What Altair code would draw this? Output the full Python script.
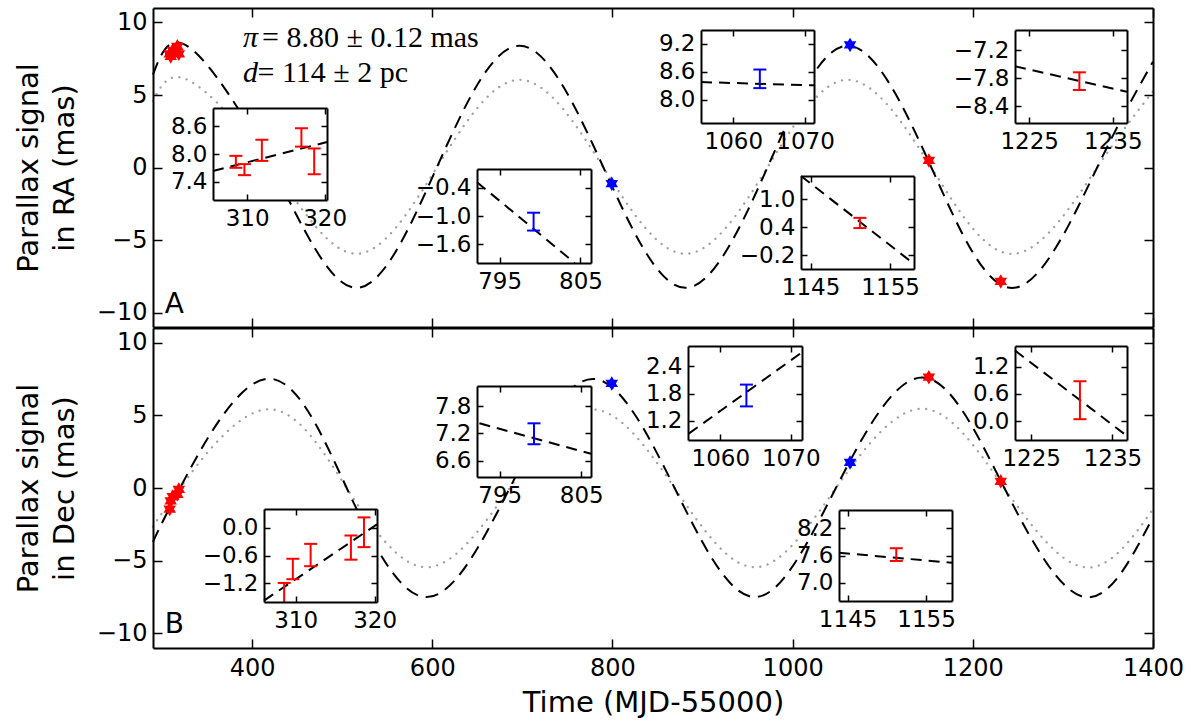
import altair as alt
import pandas as pd

# ---------------- layout (pixels inside the plot frame) ----------------
W, H = 1000, 640
PANEL_A = [319, 0]      # y range of the RA panel
PANEL_B = [640, 320]    # y range of the Dec panel

# ---------------- data ----------------
X_DOMAIN = [290, 1400]
Y_DOMAIN = [-11, 11]
X_TICKS = [400, 600, 800, 1000, 1200, 1400]
Y_TICKS = [-10, -5, 0, 5, 10]

obs_mjd = [308.55, 309.65, 311.9, 317.0, 318.65, 799.2, 1063.7, 1151.2, 1231.0]
obs_colour = ["red", "red", "red", "red", "red", "blue", "blue", "red", "red"]
ra_val = [7.83, 7.66, 8.08, 8.36, 7.84, -1.12, 8.45, 0.49, -7.86]
ra_err = [0.13, 0.12, 0.23, 0.20, 0.28, 0.19, 0.20, 0.11, 0.19]
dec_val = [-1.45, -0.89, -0.59, -0.43, -0.10, 7.19, 1.76, 7.62, 0.46]
dec_err = [0.26, 0.22, 0.24, 0.26, 0.32, 0.23, 0.24, 0.14, 0.42]

model_ra_t = [290, 330, 422, 515, 605, 697, 790, 881, 972, 1061, 1154, 1246, 1338, 1400]
model_ra = [6.4, 8.3, 0.0, -8.3, 0.0, 8.4, 0.0, -8.3, 0.0, 8.4, 0.0, -8.3, 0.0, 7.3]
model_ra_dot = [4.6, 6.0, 0.0, -5.95, 0.0, 6.05, 0.0, -5.95, 0.0, 6.05, 0.0, -5.95, 0.0, 5.25]
model_dec_t = [290, 320, 415, 505, 594, 686, 778, 869, 958, 1048, 1144, 1235, 1324, 1400]
model_dec = [-3.7, 0.0, 7.5, 0.0, -7.5, 0.0, 7.5, 0.0, -7.5, 0.0, 7.6, 0.0, -7.5, -2.0]
model_dec_dot = [-2.65, 0.0, 5.4, 0.0, -5.45, 0.0, 5.4, 0.0, -5.45, 0.0, 5.45, 0.0, -5.45, -1.45]

# insets: limits, ticks and the model segment drawn inside
ra_xlim = [[305.6, 320.3], [792.2, 806.3], [1055.5, 1071.25], [1143.8, 1158.0], [1223.3, 1236.7]]
ra_ylim = [[7.0, 9.0], [-2.0, 0.0], [7.5, 9.5], [-0.5, 1.5], [-8.76, -6.76]]
ra_xticks = [[310, 320], [795, 805], [1060, 1070], [1145, 1155], [1225, 1235]]
ra_yticks = [[7.4, 8.0, 8.6], [-1.6, -1.0, -0.4], [8.0, 8.6, 9.2], [-0.2, 0.4, 1.0], [-8.4, -7.8, -7.2]]
ra_seg_t = [[305.6, 320.3], [792.2, 804.3], [1055.5, 1071.25], [1143.8, 1158.0], [1223.3, 1236.7]]
ra_seg_v = [[7.63, 8.26], [-0.28, -2.0], [8.38, 8.31], [1.5, -0.39], [-7.54, -8.09]]

dec_xlim = [[306.0, 320.3], [792.2, 806.2], [1055.4, 1071.6], [1143.9, 1158.3], [1223.0, 1236.8]]
dec_ylim = [[-1.6, 0.4], [6.24, 8.24], [0.78, 2.85], [6.6, 8.6], [-0.42, 1.66]]
dec_xticks = [[310, 320], [795, 805], [1060, 1070], [1145, 1155], [1225, 1235]]
dec_yticks = [[-1.2, -0.6, 0.0], [6.6, 7.2, 7.8], [1.2, 1.8, 2.4], [7.0, 7.6, 8.2], [0.0, 0.6, 1.2]]
dec_seg_t = [[306.0, 320.3], [792.5, 806.2], [1055.5, 1071.5], [1143.9, 1158.3], [1223.0, 1236.8]]
dec_seg_v = [[-1.57, 0.07], [7.42, 6.75], [0.92, 2.7], [7.66, 7.44], [1.56, -0.33]]

# inset boxes: left, top, right, bottom (pixels in the plot frame)
ra_box = [(60, 100, 174, 192), (324, 161, 438, 255), (548, 22, 661, 115),
          (648, 168, 761, 261), (862, 22, 974, 115)]
dec_box = [(111, 501, 224, 594), (324, 378, 438, 469), (535, 338, 649, 432),
           (686, 502, 799, 593), (862, 338, 974, 432)]

annot_sym_t = [390, 390]
annot_sym_v = [8.93, 6.55]
annot_sym = ["π", "d"]
annot_rest_t = [411, 406]
annot_rest = ["= 8.80 ± 0.12 mas", "= 114 ± 2 pc"]
panel_label_t = [303]
panel_label_v = [-9.45]

SANS = "DejaVu Sans"
HEX = ("M0,-1L0.289,-0.5L0.866,-0.5L0.577,0L0.866,0.5L0.289,0.5L0,1L-0.289,0.5"
       "L-0.866,0.5L-0.577,0L-0.866,-0.5L-0.289,-0.5Z")


def sc(domain, rng, clamp=False):
    return alt.Scale(domain=domain, range=rng, nice=False, zero=False, clamp=clamp)


def tick_axis(orient, offset, values, size):
    return alt.Axis(orient=orient, offset=offset, values=values, labels=False,
                    ticks=True, tickSize=size, tickWidth=1.5, tickColor="black",
                    domain=True, domainColor="black", domainWidth=2,
                    grid=False, zindex=1, title=None)


def label_axis(orient, offset, values, fmt, size, pad, title=None, tsize=29, tpad=10):
    kw = dict(orient=orient, offset=offset, values=values, format=fmt, labels=True,
              ticks=False, tickSize=0, domain=False, labelFontSize=size,
              labelFont=SANS, labelColor="black", labelPadding=pad,
              labelFlush=False, labelOverlap=False, grid=False, zindex=1)
    if title is None:
        kw["title"] = None
    else:
        kw.update(title=title, titleFont=SANS, titleFontSize=tsize,
                  titleFontWeight="normal", titleColor="black", titlePadding=tpad,
                  titleLineHeight=36)
    return alt.Axis(**kw)


obs = pd.DataFrame({"t": obs_mjd, "c": obs_colour, "ra": ra_val, "ra_e": ra_err,
                    "dec": dec_val, "dec_e": dec_err})

layers = []


def main_panel(prange, t, dash_v, dot_v, col, ytitle, bottom):
    top_px, bot_px = prange[1], prange[0]
    ddf = pd.DataFrame({"t": t, "v": dash_v})
    odf = pd.DataFrame({"t": t, "v": dot_v})
    pdf = obs[["t", "c", col]].rename(columns={col: "v"})
    xs = lambda: sc(X_DOMAIN, [0, W])
    ys = lambda: sc(Y_DOMAIN, prange)
    layers.append(alt.Chart(odf).mark_line(
        interpolate="natural", color="#a0a0a0", strokeWidth=2.3, strokeDash=[0.1, 7.5],
        strokeCap="round").encode(
        x=alt.X("t:Q", scale=xs(), axis=tick_axis("top", -bot_px, X_TICKS, 9)),
        y=alt.Y("v:Q", scale=ys(), axis=tick_axis("right", -W, Y_TICKS, 9))))
    layers.append(alt.Chart(ddf).mark_line(
        interpolate="natural", color="black", strokeWidth=2, strokeDash=[13, 8]).encode(
        x=alt.X("t:Q", scale=xs(), axis=tick_axis("bottom", top_px - H, X_TICKS, 9)),
        y=alt.Y("v:Q", scale=ys(), axis=label_axis("left", 0, Y_TICKS, "d", 24, 6,
                                                   title=ytitle, tpad=17))))
    xax = label_axis("bottom", 0, X_TICKS, "d", 24, 8, title="Time (MJD-55000)", tpad=8) if bottom else None
    layers.append(alt.Chart(pdf).mark_point(
        shape=HEX, filled=True, size=210, opacity=1).encode(
        x=alt.X("t:Q", scale=xs(), axis=xax),
        y=alt.Y("v:Q", scale=ys(), axis=tick_axis("left", -W, Y_TICKS, 9)),
        color=alt.Color("c:N", scale=None)))


def text_layer(df, prange, font, size, style="normal"):
    layers.append(alt.Chart(df).mark_text(
        align="left", baseline="middle", font=font, fontSize=size, fontStyle=style,
        color="black").encode(
        x=alt.X("t:Q", scale=sc(X_DOMAIN, [0, W]), axis=None),
        y=alt.Y("v:Q", scale=sc(Y_DOMAIN, prange), axis=None),
        text="s:N"))


def inset(box, xlim, ylim, xt, yt, seg_t, seg_v, col, ecol):
    l, t, r, b = box
    xs = lambda clamp=False: sc(xlim, [l, r], clamp)
    ys = lambda clamp=False: sc(ylim, [b, t], clamp)
    bg = pd.DataFrame({"x0": [xlim[0]], "x1": [xlim[1]], "y0": [ylim[0]], "y1": [ylim[1]]})
    layers.append(alt.Chart(bg).mark_rect(fill="white").encode(
        x=alt.X("x0:Q", scale=xs(), axis=label_axis("bottom", b - H, xt, "d", 23, 7)),
        x2="x1:Q",
        y=alt.Y("y0:Q", scale=ys(), axis=label_axis("left", -l, yt, ".1f", 23, 6)),
        y2="y1:Q"))
    sdf = pd.DataFrame({"t": seg_t, "v": seg_v})
    layers.append(alt.Chart(sdf).mark_line(color="black", strokeWidth=2, strokeDash=[11, 7]).encode(
        x=alt.X("t:Q", scale=xs(), axis=tick_axis("bottom", t - H, xt, 6)),
        y=alt.Y("v:Q", scale=ys(), axis=tick_axis("right", l - W, yt, 6))))
    sel = obs[(obs["t"] >= xlim[0]) & (obs["t"] <= xlim[1])].copy()
    sel["lo"] = sel[col] - sel[ecol]
    sel["hi"] = sel[col] + sel[ecol]
    layers.append(alt.Chart(sel[["t", "c", "lo", "hi"]]).mark_rule(strokeWidth=2).encode(
        x=alt.X("t:Q", scale=xs(), axis=tick_axis("top", -b, xt, 6)),
        y=alt.Y("lo:Q", scale=ys(True), axis=tick_axis("left", -r, yt, 6)),
        y2="hi:Q",
        color=alt.Color("c:N", scale=None)))
    caps = sel.melt(id_vars=["t", "c"], value_vars=["lo", "hi"], value_name="v")
    caps = caps[(caps["v"] >= ylim[0]) & (caps["v"] <= ylim[1])][["t", "c", "v"]]
    layers.append(alt.Chart(caps).mark_rule(strokeWidth=2, xOffset=-6.5, x2Offset=6.5).encode(
        x=alt.X("t:Q", scale=xs(), axis=None),
        x2="t:Q",
        y=alt.Y("v:Q", scale=ys(), axis=None),
        color=alt.Color("c:N", scale=None)))


main_panel(PANEL_A, model_ra_t, model_ra, model_ra_dot, "ra",
           ["Parallax signal", "in RA (mas)"], False)
main_panel(PANEL_B, model_dec_t, model_dec, model_dec_dot, "dec",
           ["Parallax signal", "in Dec (mas)"], True)

text_layer(pd.DataFrame({"t": annot_sym_t, "v": annot_sym_v, "s": annot_sym}),
           PANEL_A, "Liberation Serif", 30, "italic")
text_layer(pd.DataFrame({"t": annot_rest_t, "v": annot_sym_v, "s": annot_rest}),
           PANEL_A, "Liberation Serif", 30)
text_layer(pd.DataFrame({"t": panel_label_t, "v": panel_label_v, "s": ["A"]}), PANEL_A, SANS, 28)
text_layer(pd.DataFrame({"t": panel_label_t, "v": panel_label_v, "s": ["B"]}), PANEL_B, SANS, 28)

for i in range(5):
    inset(ra_box[i], ra_xlim[i], ra_ylim[i], ra_xticks[i], ra_yticks[i],
          ra_seg_t[i], ra_seg_v[i], "ra", "ra_e")
for i in range(5):
    inset(dec_box[i], dec_xlim[i], dec_ylim[i], dec_xticks[i], dec_yticks[i],
          dec_seg_t[i], dec_seg_v[i], "dec", "dec_e")

chart = alt.layer(*layers).resolve_scale(x="independent", y="independent").properties(
    width=W, height=H,
    autosize=alt.AutoSizeParams(type="none"),
    padding={"left": 153, "top": 8, "right": 45, "bottom": 74},
    background="white",
).configure_view(stroke=None)

chart.save("out.html", embed_options={"renderer": "svg", "actions": False})
